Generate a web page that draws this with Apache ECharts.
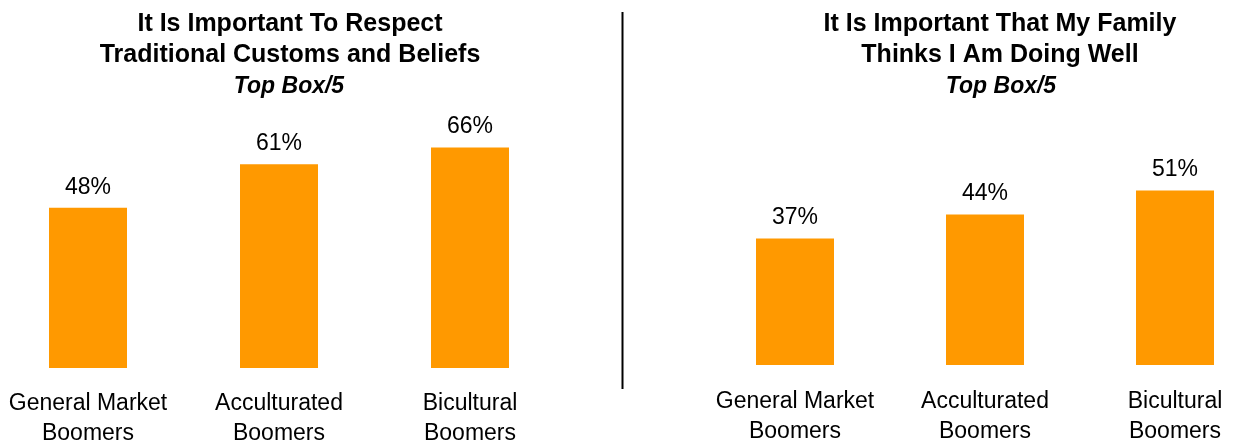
<!DOCTYPE html>
<html>
<head>
<meta charset="utf-8">
<script src="https://cdn.jsdelivr.net/npm/echarts@6/dist/echarts.min.js"></script>
<style>
html,body{margin:0;padding:0;background:#fff;}
#c{width:1234px;height:442px;}
</style>
</head>
<body>
<div id="c"></div>
<script>
var categories = ['General Market\nBoomers', 'Acculturated\nBoomers', 'Bicultural\nBoomers'];
var leftValues = [48, 61, 66];
var rightValues = [37, 44, 51];
var leftTitle = 'It Is Important To Respect\nTraditional Customs and Beliefs';
var rightTitle = 'It Is Important That My Family\nThinks I Am Doing Well';
var subTitle = 'Top Box/5';

var FONT = 'Liberation Sans, Arial, sans-serif';
var BAR = '#FF9900';

function xAxis(idx, margin) {
  return {
    type: 'category', gridIndex: idx, data: categories,
    axisLine: {show: false}, axisTick: {show: false}, splitLine: {show: false},
    axisLabel: {interval: 0, margin: margin, fontFamily: FONT, fontSize: 23, lineHeight: 30, color: '#000'}
  };
}
function yAxis(idx) {
  return {type: 'value', gridIndex: idx, min: 0, max: 100, show: false, splitLine: {show: false}};
}
function series(idx, vals) {
  return {
    type: 'bar', xAxisIndex: idx, yAxisIndex: idx, data: vals, barWidth: 78,
    itemStyle: {color: BAR},
    label: {show: true, position: 'top', distance: 9, formatter: '{c}%', fontFamily: FONT, fontSize: 23, color: '#000'}
  };
}
function titleBlock(text, x, top, size, italic, lh) {
  return {
    text: text, left: x, top: top, textAlign: 'center',
    textStyle: {fontFamily: FONT, fontSize: size, fontWeight: 'bold', fontStyle: italic ? 'italic' : 'normal', color: '#000', lineHeight: lh}
  };
}

var chart = echarts.init(document.getElementById('c'));
chart.setOption({
  backgroundColor: '#fff',
  animation: false,
  title: [
    titleBlock(leftTitle, 285, 4, 25, false, 31),
    titleBlock(subTitle, 284, 70, 23, true, 24),
    titleBlock(rightTitle, 995, 4, 25, false, 31),
    titleBlock(subTitle, 996, 70, 23, true, 24)
  ],
  grid: [
    {left: -7.5, width: 573, top: 34, height: 334, containLabel: false, outerBoundsMode: 'none'},
    {left: 700, width: 570, top: 23, height: 342, containLabel: false, outerBoundsMode: 'none'}
  ],
  xAxis: [xAxis(0, 21), xAxis(1, 22)],
  yAxis: [yAxis(0), yAxis(1)],
  series: [series(0, leftValues), series(1, rightValues)],
  graphic: [{
    type: 'line', shape: {x1: 622.5, y1: 12, x2: 622.5, y2: 389},
    style: {stroke: '#000', lineWidth: 2}
  }]
});
</script>
</body>
</html>
